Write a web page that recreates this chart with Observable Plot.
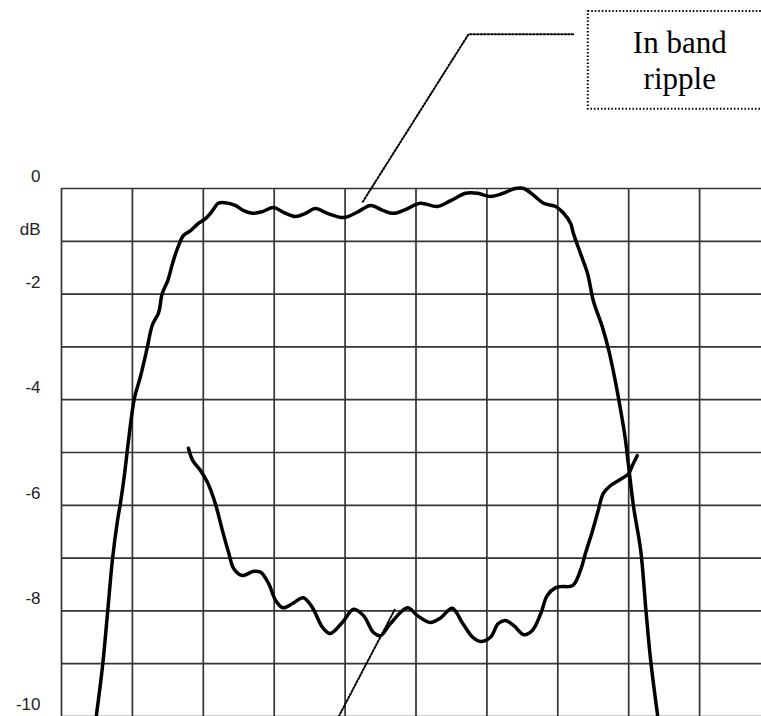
<!DOCTYPE html>
<html>
<head>
<meta charset="utf-8">
<script src="https://cdn.jsdelivr.net/npm/d3@7"></script>
<script src="https://cdn.jsdelivr.net/npm/@observablehq/plot@0.6"></script>
<style>
  html, body { margin: 0; padding: 0; background: #fff; }
  #chart svg { display: block; }
</style>
</head>
<body>
<div id="chart"></div>
<script>
// Grid (x in grid divisions, y in dB)
const gridX = [0, 1, 2, 3, 4, 5, 6, 7, 8, 9];
const gridY = [0, -1, -2, -3, -4, -5, -6, -7, -8, -9, -10];
const yTickValues = [0, -1, -2, -4, -6, -8, -10];
const yTickLabels = ["0", "dB", "-2", "-4", "-6", "-8", "-10"];

// Pass-band response
const passX = [0.49,0.58,0.65,0.72,0.79,0.83,0.89,0.94,1.03,1.11,1.21,1.28,1.37,1.42,1.50,1.57,1.64,1.72,1.82,1.93,2.03,2.13,2.21,2.31,2.45,2.57,2.69,2.83,2.99,3.13,3.30,3.44,3.58,3.75,3.98,4.17,4.36,4.54,4.68,4.85,5.06,5.30,5.49,5.70,5.87,6.05,6.23,6.40,6.52,6.66,6.80,6.97,7.07,7.18,7.22,7.32,7.42,7.50,7.63,7.72,7.81,7.88,7.95,8.00,8.07,8.17,8.24,8.31,8.41];
const passY = [-10.00,-9.03,-8.03,-7.01,-6.29,-5.97,-5.40,-4.83,-3.96,-3.58,-3.01,-2.59,-2.35,-1.99,-1.74,-1.40,-1.12,-0.89,-0.80,-0.66,-0.57,-0.42,-0.28,-0.27,-0.32,-0.42,-0.47,-0.44,-0.36,-0.45,-0.53,-0.47,-0.38,-0.47,-0.55,-0.45,-0.32,-0.42,-0.47,-0.40,-0.28,-0.34,-0.23,-0.09,-0.09,-0.15,-0.09,0.00,0.00,-0.13,-0.28,-0.34,-0.45,-0.66,-0.85,-1.23,-1.61,-2.12,-2.63,-3.07,-3.64,-4.15,-4.72,-5.28,-6.04,-6.86,-7.94,-8.94,-10.00];

// Second (lower) response
const lowX = [1.79,1.85,1.96,2.06,2.17,2.27,2.36,2.43,2.55,2.71,2.81,2.92,3.02,3.12,3.26,3.41,3.54,3.68,3.79,3.96,4.12,4.26,4.40,4.50,4.64,4.88,5.02,5.20,5.35,5.51,5.66,5.80,5.91,6.05,6.16,6.26,6.38,6.52,6.64,6.76,6.85,6.97,7.04,7.21,7.32,7.39,7.49,7.57,7.64,7.74,7.88,8.00,8.05,8.12];
const lowY = [-4.92,-5.15,-5.34,-5.57,-5.97,-6.48,-6.91,-7.20,-7.33,-7.25,-7.27,-7.48,-7.80,-7.94,-7.86,-7.75,-7.94,-8.31,-8.43,-8.22,-7.97,-8.09,-8.41,-8.47,-8.24,-7.94,-8.09,-8.22,-8.13,-7.95,-8.24,-8.50,-8.58,-8.50,-8.24,-8.18,-8.28,-8.45,-8.37,-8.05,-7.71,-7.56,-7.54,-7.52,-7.23,-6.91,-6.48,-6.10,-5.78,-5.63,-5.51,-5.40,-5.25,-5.06];

// Annotation
const noteText = ["In band", "ripple"];
const noteLeaderX = [4.25, 5.74, 7.22];
const noteLeaderY = [-0.25, 2.92, 2.92];
const noteBox = {x1: 7.43, x2: 10.3, y1: 1.50, y2: 3.35};
const noteTextPos = {x: 8.72, y: 2.44};
const lowLeaderX = [3.91, 4.71];
const lowLeaderY = [-10.0, -7.95];

const pass = passX.map((x, i) => ({x, y: passY[i]}));
const low = lowX.map((x, i) => ({x, y: lowY[i]}));
const leader = noteLeaderX.map((x, i) => ({x, y: noteLeaderY[i]}));
const leader2 = lowLeaderX.map((x, i) => ({x, y: lowLeaderY[i]}));
const ticks = yTickValues.map((v, i) => ({v, label: yTickLabels[i]}));

const dotted = {stroke: "black", strokeWidth: 2, strokeDasharray: "1.5,2"};

const chart = Plot.plot({
  width: 761,
  height: 716,
  marginLeft: 61,
  marginRight: 0,
  marginTop: 188,
  marginBottom: 0,
  style: {fontFamily: "'Liberation Sans', Arial, sans-serif", background: "#fff"},
  x: {domain: [0, 700 / 70.9], axis: null},
  y: {domain: [-10, 0], axis: null},
  marks: [
    Plot.ruleX(gridX, {stroke: "#333", strokeWidth: 1.7}),
    Plot.ruleY(gridY, {stroke: "#333", strokeWidth: 1.7}),
    Plot.text(ticks, {
      y: "v",
      text: "label",
      frameAnchor: "left",
      textAnchor: "end",
      dx: -21,
      dy: -12,
      fontSize: 17,
      fill: "#222"
    }),
    Plot.line(pass, {x: "x", y: "y", stroke: "black", strokeWidth: 3.5, curve: "catmull-rom"}),
    Plot.line(low, {x: "x", y: "y", stroke: "black", strokeWidth: 3.5, curve: "catmull-rom"}),
    Plot.line(leader, {x: "x", y: "y", ...dotted}),
    Plot.line(leader2, {x: "x", y: "y", ...dotted}),
    Plot.rect([noteBox], {x1: "x1", x2: "x2", y1: "y1", y2: "y2", fill: "none", ...dotted}),
    Plot.text([noteText.join("\n")], {
      x: noteTextPos.x, y: noteTextPos.y,
      text: (d) => d,
      fontFamily: "'Liberation Serif', 'Times New Roman', serif",
      fontSize: 31,
      lineHeight: 1.17,
      lineAnchor: "middle",
      fill: "black"
    })
  ]
});

document.getElementById("chart").append(chart);
</script>
</body>
</html>
